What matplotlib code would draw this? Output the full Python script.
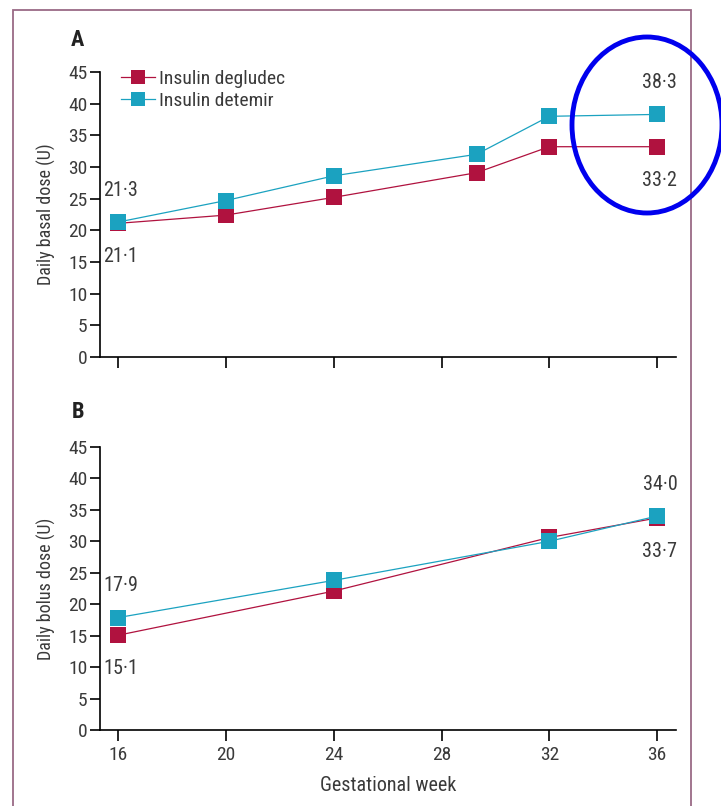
import matplotlib
matplotlib.use('Agg')
import matplotlib.pyplot as plt
from matplotlib import font_manager
from matplotlib.patches import Rectangle, Ellipse

# Panel A: daily basal dose
weeks_basal = [16, 20, 24, 29.3, 32, 36]
basal_degludec = [21.1, 22.4, 25.2, 29.1, 33.2, 33.2]
basal_detemir = [21.3, 24.7, 28.6, 32.0, 38.0, 38.3]

# Panel B: daily bolus dose
weeks_bolus = [16, 24, 32, 36]
bolus_degludec = [15.1, 22.1, 30.6, 33.7]
bolus_detemir = [17.9, 23.8, 30.0, 34.0]

x_ticks = [16, 20, 24, 28, 32, 36]
y_ticks = [0, 5, 10, 15, 20, 25, 30, 35, 40, 45]

RED = '#b0123f'
BLUE = '#1ba2c0'
TEXT = '#3a3a3a'

# pick a narrow font if there is one
installed = {f.name for f in font_manager.fontManager.ttflist}
condensed = {f.name for f in font_manager.fontManager.ttflist
             if f.stretch in ('condensed', 'semi-condensed', 525, 500)}
family = 'DejaVu Sans'
stretch = 'normal'
for name in ['Liberation Sans Narrow', 'Roboto Condensed', 'Open Sans Condensed']:
    if name in installed:
        family = name
        break
else:
    if 'DejaVu Sans' in condensed:
        stretch = 'condensed'
plt.rcParams['font.family'] = [family, 'DejaVu Sans']
plt.rcParams['font.stretch'] = stretch


def fmt(v):
    return f'{v:.1f}'.replace('.', '\u00b7')


def style_axes(ax, ylabel, show_xlabels):
    ax.set_xlim(15.33, 36.7)
    ax.set_ylim(0, 45)
    ax.set_xticks(x_ticks)
    ax.set_yticks(y_ticks)
    for s in ['top', 'right']:
        ax.spines[s].set_visible(False)
    for s in ['left', 'bottom']:
        ax.spines[s].set_linewidth(1.2)
    ax.tick_params(axis='both', direction='out', length=7, width=1.2,
                   labelsize=14, labelcolor=TEXT, pad=2)
    ax.tick_params(axis='x', length=8, pad=3)
    ax.tick_params(axis='x', labelbottom=show_xlabels)
    ax.set_ylabel(ylabel, fontsize=13, color=TEXT, labelpad=9)


def label_ends(ax, weeks, low, high):
    # first and last values: detemir above, degludec below
    for i in (0, -1):
        ax.annotate(fmt(high[i]), (weeks[i], max(high[i], low[i])),
                    xytext=(2, 23), textcoords='offset points',
                    ha='center', va='center', fontsize=14.5, color=TEXT)
        ax.annotate(fmt(low[i]), (weeks[i], min(high[i], low[i])),
                    xytext=(2, -24), textcoords='offset points',
                    ha='center', va='center', fontsize=14.5, color=TEXT)


fig = plt.figure(figsize=(7.21, 8.06), dpi=100)

axA = fig.add_axes([0.1387, 0.5571, 0.7989, 0.3536])
axB = fig.add_axes([0.1387, 0.0937, 0.7989, 0.3521])

for ax, weeks, deg, det in [(axA, weeks_basal, basal_degludec, basal_detemir),
                            (axB, weeks_bolus, bolus_degludec, bolus_detemir)]:
    ax.plot(weeks, deg, color=RED, lw=0.9, marker='s', markersize=12,
            markeredgewidth=0, label='Insulin degludec', zorder=3)
    ax.plot(weeks, det, color=BLUE, lw=0.9, marker='s', markersize=12,
            markeredgewidth=0, label='Insulin detemir', zorder=4)
    label_ends(ax, weeks, deg, det)

style_axes(axA, 'Daily basal dose (U)', False)
style_axes(axB, 'Daily bolus dose (U)', True)
axB.set_xlabel('Gestational week', fontsize=14.5, color=TEXT, labelpad=9)

axA.legend(loc='upper left', bbox_to_anchor=(0.02, 1.04), frameon=False,
           fontsize=14, handlelength=1.75, handletextpad=0.2,
           labelspacing=0.2, borderpad=0, markerscale=0.85,
           labelcolor=TEXT)

fig.text(77 / 721, 1 - 40 / 806, 'A', fontsize=16, fontweight='bold',
         color='#222222', ha='center', va='center')
fig.text(78 / 721, 1 - 412 / 806, 'B', fontsize=16, fontweight='bold',
         color='#222222', ha='center', va='center')

# outer frame
fig.patches.append(Rectangle((13 / 721, -0.01), 678 / 721, 1 - 10 / 806 + 0.01,
                             transform=fig.transFigure, fill=False,
                             edgecolor='#9a6a86', lw=1.3))
# highlight ellipse
fig.patches.append(Ellipse((647 / 721, 1 - 125 / 806), 150 / 721, 176 / 806,
                           transform=fig.transFigure, fill=False,
                           edgecolor='#0000ee', lw=3.5, zorder=10))

plt.savefig('out.png', dpi=100)
plt.close()
